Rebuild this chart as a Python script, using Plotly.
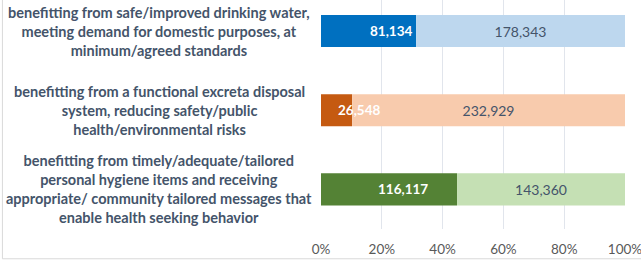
import plotly.graph_objects as go

categories = [
    "benefitting from safe/improved drinking water,<br>meeting demand for domestic purposes, at<br>minimum/agreed standards",
    "benefitting from a functional excreta disposal<br>system, reducing safety/public<br>health/environmental risks",
    "benefitting from timely/adequate/tailored<br>personal hygiene items and receiving<br>appropriate/ community tailored messages that<br>enable health seeking behavior",
]
reached = [81134, 26548, 116117]
remaining = [178343, 232929, 143360]
dark_colors = ["#0070C0", "#C55A11", "#548235"]
light_colors = ["#BDD7EE", "#F8CBAD", "#C5E0B4"]
label_xshift = [22, 22, 14]
tick_vals = [0, 20, 40, 60, 80, 100]
tick_text = ["0%", "20%", "40%", "60%", "80%", "100%"]

FONT = "Lato"
ypos = list(range(len(categories)))
totals = [a + b for a, b in zip(reached, remaining)]
pct_reached = [a / t * 100 for a, t in zip(reached, totals)]
pct_remaining = [b / t * 100 for b, t in zip(remaining, totals)]

fig = go.Figure()
fig.add_trace(go.Bar(
    y=ypos, x=pct_reached, orientation="h",
    marker=dict(color=dark_colors, line=dict(width=0)),
    hoverinfo="skip",
))
fig.add_trace(go.Bar(
    y=ypos, x=pct_remaining, base=pct_reached, orientation="h",
    marker=dict(color=light_colors, line=dict(width=0)),
    text=[f"{v:,}" for v in remaining], textposition="inside",
    insidetextanchor="middle",
    textfont=dict(family=FONT, size=14, color="#44546A"),
    hoverinfo="skip",
))

annotations = []
for i, (v, p) in enumerate(zip(reached, pct_reached)):
    annotations.append(dict(
        x=p / 2, y=i, xref="x", yref="y", text=f"<b>{v:,}</b>",
        showarrow=False, xanchor="center", yanchor="middle",
        xshift=label_xshift[i],
        font=dict(family=FONT, size=13.5, color="white"),
    ))
for i, c in enumerate(categories):
    annotations.append(dict(
        x=-0.532, y=i, xref="paper", yref="y", text=f"<b>{c}</b>",
        showarrow=False, xanchor="center", yanchor="middle", align="center",
        font=dict(family=FONT, size=14.5, color="#44546A"),
    ))

fig.update_layout(
    width=641, height=261,
    margin=dict(l=321, r=16, t=0, b=32),
    barmode="overlay", bargap=0.595,
    showlegend=False,
    paper_bgcolor="white", plot_bgcolor="white",
    annotations=annotations,
    uniformtext=dict(mode="show", minsize=8),
    shapes=[
        dict(type="line", xref="paper", yref="paper", x0=-1.048, x1=-1.048, y0=-0.13, y1=1.2,
             line=dict(color="#D9D9D9", width=1)),
        dict(type="line", xref="paper", yref="paper", x0=-1.048, x1=1.1, y0=-0.13, y1=-0.13,
             line=dict(color="#D9D9D9", width=1)),
    ],
)
fig.update_xaxes(
    range=[0, 100], tickvals=tick_vals, ticktext=tick_text,
    showgrid=True, gridcolor="#E1E5EC", gridwidth=1, zeroline=False,
    showline=False, ticks="", ticklabelstandoff=10, ticklabeloverflow="allow",
    tickfont=dict(family=FONT, size=13.5, color="#595959"),
)
fig.update_yaxes(
    range=[2.5, -0.392], showticklabels=False, showgrid=False, zeroline=False,
    tickvals=ypos,
)
fig.write_html(
    "out.html",
    config={"displayModeBar": False},
    post_script="document.body.style.margin='0';document.body.style.overflow='hidden';",
)
